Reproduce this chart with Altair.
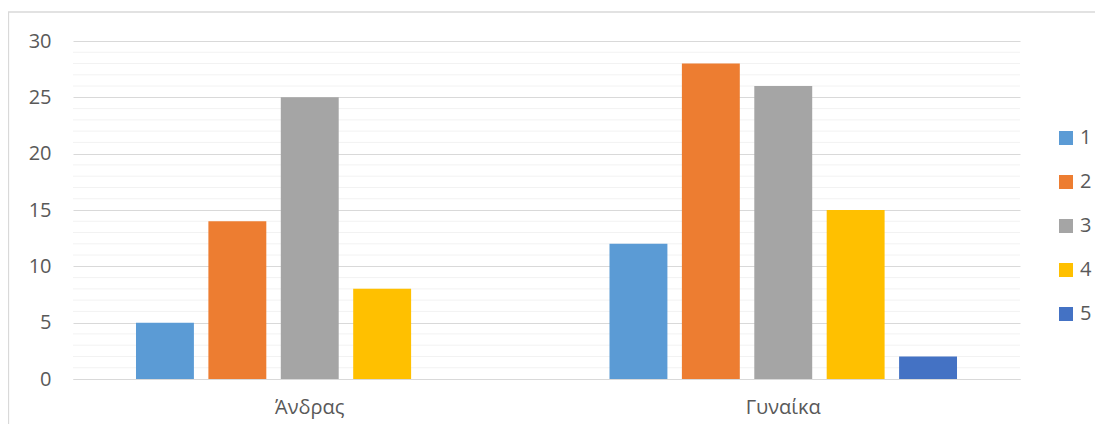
import altair as alt
import pandas as pd

categories = ["Άνδρας", "Γυναίκα"]
series = ["1", "2", "3", "4", "5"]
andras = [5, 14, 25, 8, None]
gynaika = [12, 28, 26, 15, 2]
colors = ["#5B9BD5", "#ED7D31", "#A5A5A5", "#FFC000", "#4472C4"]
major_ticks = [0, 5, 10, 15, 20, 25, 30]
minor_ticks = [v for v in range(1, 30) if v % 5 != 0]

rows = []
for cat, vals in zip(categories, [andras, gynaika]):
    for s, v in zip(series, vals):
        if v is not None:
            rows.append({"cat": cat, "series": s, "value": v})
df = pd.DataFrame(rows)

FONT = "Open Sans"
LABEL = "#595959"
FS = 20

y_scale = alt.Scale(domain=[0, 30], nice=False)
y_axis = alt.Axis(
    title=None, values=major_ticks, grid=True, gridColor="#d9d9d9",
    domain=False, ticks=False, labelColor=LABEL, labelFont=FONT,
    labelFontSize=FS, labelPadding=22,
)

minor = alt.Chart(pd.DataFrame({"v": minor_ticks})).mark_rule(
    color="#f2f2f2", strokeWidth=1
).encode(y=alt.Y("v:Q", scale=y_scale, axis=y_axis))

bars = alt.Chart(df).mark_bar().encode(
    x=alt.X(
        "cat:N",
        sort=categories,
        scale=alt.Scale(domain=categories, paddingInner=0, paddingOuter=0),
        axis=alt.Axis(
            title=None, labelAngle=0, ticks=False, domain=True,
            domainColor="#d9d9d9", labelColor=LABEL, labelFont=FONT,
            labelFontSize=FS, labelPadding=18,
        ),
    ),
    xOffset=alt.XOffset(
        "series:N",
        scale=alt.Scale(domain=series, paddingInner=0.2, paddingOuter=0.87),
    ),
    y=alt.Y("value:Q", scale=y_scale, axis=y_axis),
    color=alt.Color(
        "series:N",
        scale=alt.Scale(domain=series, range=colors),
        legend=alt.Legend(
            title=None, orient="none", legendX=983, legendY=87, padding=0,
            symbolType="square", symbolSize=196, symbolStrokeWidth=0,
            labelFont=FONT, labelFontSize=FS, labelColor=LABEL,
            labelOffset=4, rowPadding=24,
        ),
    ),
)

border = alt.Chart(pd.DataFrame({"a": [0]})).mark_rect(
    fill=None, stroke="#d9d9d9", strokeWidth=1.3
).encode(
    x=alt.value(-64.5), x2=alt.value(1060), y=alt.value(-29), y2=alt.value(440)
)

chart = alt.layer(border, minor, bars).properties(
    width=947,
    height=338,
    autosize=alt.AutoSizeParams(type="none"),
    padding={"left": 65, "top": 33, "right": 75, "bottom": 45},
).configure_view(stroke=None)

chart.save("out.html", embed_options={"renderer": "svg", "actions": False})
